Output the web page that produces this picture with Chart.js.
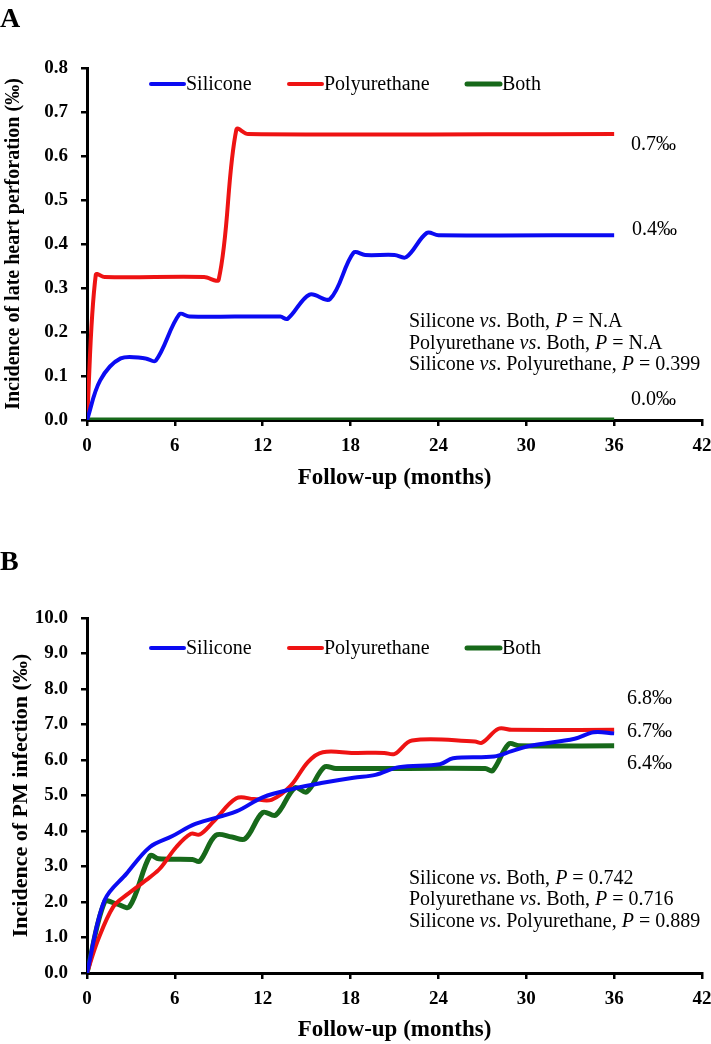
<!DOCTYPE html>
<html>
<head>
<meta charset="utf-8">
<script src="https://cdn.jsdelivr.net/npm/chart.js@4.4.1/dist/chart.umd.min.js"></script>
<style>
  html, body { margin: 0; padding: 0; background: #fff; overflow: hidden; }
  #page { position: relative; width: 711px; height: 1044px; font-family: 'Liberation Serif', 'Times New Roman', serif; color: #000; }
  canvas { position: absolute; left: 0; }
  .note { position: absolute; font-size: 20px; line-height: 1; white-space: nowrap; transform: translateY(-50%); }
  .panel { position: absolute; left: 0; font-size: 28px; font-weight: bold; line-height: 1; }
</style>
</head>
<body>
<div id="page">
  <canvas id="chartA" width="711" height="500" style="top:0"></canvas>
  <canvas id="chartB" width="711" height="524" style="top:520px"></canvas>

  <div class="panel" style="top:4px">A</div>
  <div class="panel" style="top:547px">B</div>

  <!-- panel A notes -->
  <div class="note" style="left:631px; top:143px">0.7‰</div>
  <div class="note" style="left:632px; top:228px">0.4‰</div>
  <div class="note" style="left:631px; top:398px">0.0‰</div>
  <div class="note" style="left:409px; top:320px">Silicone <i>vs</i>. Both, <i>P</i> = N.A</div>
  <div class="note" style="left:409px; top:342px">Polyurethane <i>vs</i>. Both, <i>P</i> = N.A</div>
  <div class="note" style="left:409px; top:363px">Silicone <i>vs</i>. Polyurethane, <i>P</i> = 0.399</div>

  <!-- panel B notes -->
  <div class="note" style="left:627px; top:697px">6.8‰</div>
  <div class="note" style="left:627px; top:730px">6.7‰</div>
  <div class="note" style="left:627px; top:762px">6.4‰</div>
  <div class="note" style="left:409px; top:877px">Silicone <i>vs</i>. Both, <i>P</i> = 0.742</div>
  <div class="note" style="left:409px; top:898px">Polyurethane <i>vs</i>. Both, <i>P</i> = 0.716</div>
  <div class="note" style="left:409px; top:920px">Silicone <i>vs</i>. Polyurethane, <i>P</i> = 0.889</div>
</div>

<script>
// series names
const seriesNames = ['Silicone', 'Polyurethane', 'Both'];
const xTicks = [0, 6, 12, 18, 24, 30, 36, 42];

// A: late heart perforation (‰), months vs incidence
const aSiliconeMonths = [0, 0.9, 2.3, 4, 4.7, 6.3, 7, 13.2, 13.7, 15.2, 16.6, 18.2, 19, 21, 21.8, 23.2, 24, 36];
const aSiliconeValues = [0, 0.09, 0.14, 0.14, 0.135, 0.24, 0.235, 0.235, 0.23, 0.285, 0.275, 0.38, 0.375, 0.375, 0.37, 0.425, 0.42, 0.42];
const aPolyMonths = [0, 0.6, 1.2, 8, 9, 10.2, 11, 36];
const aPolyValues = [0, 0.33, 0.325, 0.325, 0.32, 0.66, 0.65, 0.65];
const aBothMonths = [0, 36];
const aBothValues = [0, 0];
const aYTicks = [0, 0.1, 0.2, 0.3, 0.4, 0.5, 0.6, 0.7, 0.8];

// B: PM infection (‰)
const bSiliconeMonths = [0, 1.2, 2.7, 4.3, 5.8, 7.4, 10.2, 12, 14.2, 16, 18.2, 19.7, 21.3, 24.1, 25, 27.8, 29, 30.3, 33.3, 34.6, 36];
const bSiliconeValues = [0, 2.05, 2.8, 3.55, 3.85, 4.2, 4.55, 4.95, 5.2, 5.35, 5.5, 5.58, 5.8, 5.88, 6.05, 6.1, 6.25, 6.4, 6.6, 6.78, 6.75];
const bPolyMonths = [0, 0.75, 1.8, 2.7, 4.3, 5.0, 6.1, 7.1, 7.7, 8.6, 10.2, 11.4, 12.6, 13.9, 15.1, 16.1, 18.2, 20.3, 21, 22.2, 26.5, 27, 28.1, 29, 36];
const bPolyValues = [0, 0.93, 1.87, 2.2, 2.7, 2.95, 3.55, 3.92, 3.9, 4.25, 4.92, 4.9, 4.88, 5.27, 5.95, 6.22, 6.2, 6.2, 6.17, 6.55, 6.52, 6.49, 6.88, 6.85, 6.85];
const bBothMonths = [0, 1.2, 2, 2.9, 4.3, 4.9, 7.2, 7.7, 8.8, 9.9, 10.8, 12, 12.9, 14.2, 15, 16.2, 17, 27.2, 27.7, 28.8, 29.5, 36];
const bBothValues = [0, 2.0, 1.95, 1.87, 3.3, 3.22, 3.2, 3.15, 3.88, 3.83, 3.78, 4.52, 4.45, 5.22, 5.1, 5.8, 5.76, 5.76, 5.7, 6.45, 6.4, 6.4];
const bYTicks = [0, 1, 2, 3, 4, 5, 6, 7, 8, 9, 10];

const colors = ['#0b0bf2', '#ee1313', '#17691a'];
const widths = [4, 4, 5];

Chart.defaults.font.family = "'Liberation Serif', 'Times New Roman', serif";
Chart.defaults.color = '#000';

function points(xs, ys) {
    return xs.map((x, i) => ({ x: x, y: ys[i] }));
}

function makeDatasets(sets) {
    return sets.map((s, i) => ({
        label: seriesNames[i],
        data: points(s[0], s[1]),
        borderColor: colors[i],
        backgroundColor: colors[i],
        borderWidth: widths[i],
        pointRadius: 0,
        tension: 0.35,
        fill: false
    }));
}

// legend drawn inside the plot, like the original figure
const inlineLegend = {
    id: 'inlineLegend',
    afterDatasetsDraw(chart, args, opts) {
        const ctx = chart.ctx;
        ctx.save();
        ctx.font = '20px "Liberation Serif"';
        ctx.textBaseline = 'middle';
        chart.data.datasets.forEach((ds, i) => {
            const x = opts.xs[i];
            ctx.strokeStyle = ds.borderColor;
            ctx.lineWidth = ds.borderWidth;
            ctx.lineCap = 'round';
            ctx.beginPath();
            ctx.moveTo(x, opts.y);
            ctx.lineTo(x + 33, opts.y);
            ctx.stroke();
            ctx.fillStyle = '#000';
            ctx.fillText(ds.label, x + 35, opts.y + 1);
        });
        ctx.restore();
    }
};

function makeOptions(yTicks, yTitle, yTitleSize, yTitlePad, padTop, xHeight, xTitlePad, legendY) {
    return {
        responsive: false,
        animation: false,
        layout: { padding: { top: padTop, right: 9, left: 0, bottom: 0 } },
        plugins: {
            legend: { display: false },
            tooltip: { enabled: false },
            inlineLegend: { y: legendY, xs: [151, 289, 467] }
        },
        scales: {
            x: {
                type: 'linear',
                min: xTicks[0],
                max: xTicks[xTicks.length - 1],
                afterBuildTicks: s => { s.ticks = xTicks.map(v => ({ value: v })); },
                ticks: { font: { size: 19, weight: 'bold' }, color: '#000', padding: 9, maxRotation: 0, autoSkip: false },
                grid: { drawOnChartArea: false, drawTicks: true, tickLength: 6, color: '#000', lineWidth: 2.5 },
                border: { color: '#000', width: 3 },
                title: { display: true, text: 'Follow-up (months)', font: { size: 23, weight: 'bold' }, color: '#000', padding: { top: 0, bottom: xTitlePad } },
                afterFit: s => { s.height = xHeight; s.paddingLeft = 0; s.paddingRight = 0; }
            },
            y: {
                min: yTicks[0],
                max: yTicks[yTicks.length - 1],
                afterBuildTicks: s => { s.ticks = yTicks.map(v => ({ value: v })); },
                ticks: { font: { size: 19, weight: 'bold' }, color: '#000', padding: 13, callback: v => v.toFixed(1) },
                grid: { drawOnChartArea: false, drawTicks: true, tickLength: 6, color: '#000', lineWidth: 2.5 },
                border: { color: '#000', width: 3 },
                title: { display: true, text: yTitle, font: { size: yTitleSize, weight: 'bold' }, color: '#000', padding: { top: yTitlePad, bottom: 0 } },
                afterFit: s => { s.width = 87; s.paddingTop = 0; s.paddingBottom = 0; }
            }
        }
    };
}

new Chart(document.getElementById('chartA').getContext('2d'), {
    type: 'line',
    data: {
        datasets: makeDatasets([
            [aSiliconeMonths, aSiliconeValues],
            [aPolyMonths, aPolyValues],
            [aBothMonths, aBothValues]
        ])
    },
    options: makeOptions(aYTicks, 'Incidence of late heart perforation (‰)', 20, 2, 68, 80, 8, 84),
    plugins: [inlineLegend]
});

new Chart(document.getElementById('chartB').getContext('2d'), {
    type: 'line',
    data: {
        datasets: makeDatasets([
            [bSiliconeMonths, bSiliconeValues],
            [bPolyMonths, bPolyValues],
            [bBothMonths, bBothValues]
        ])
    },
    options: makeOptions(bYTicks, 'Incidence of PM infection (‰)', 22, 8, 98, 71, 0, 128),
    plugins: [inlineLegend]
});
</script>
</body>
</html>
